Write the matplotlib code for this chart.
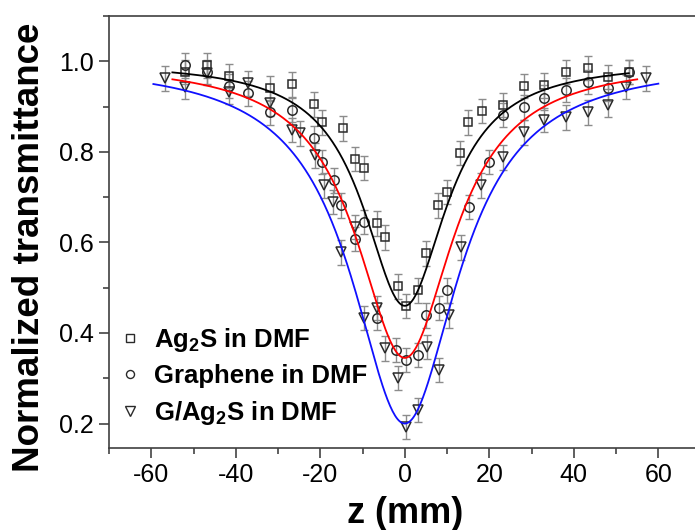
import numpy as np
import matplotlib
matplotlib.use("Agg")
import matplotlib.pyplot as plt
from matplotlib.lines import Line2D
from matplotlib.ticker import MultipleLocator

plt.rcParams['font.family'] = ['Liberation Sans', 'DejaVu Sans']
plt.rcParams['mathtext.fontset'] = 'custom'
plt.rcParams['mathtext.rm'] = 'Liberation Sans'
plt.rcParams['mathtext.bf'] = 'Liberation Sans:bold'

# ---- data ----
z_ag2s = [-52.1, -46.9, -41.7, -32.0, -26.8, -21.6, -19.7, -14.7, -11.8, -9.7, -6.6, -4.7,
          -1.7, 0.2, 3.1, 5.0, 7.8, 10.0, 13.0, 14.9, 18.2, 23.2, 28.2, 32.9, 38.1, 43.4, 48.1, 53.1]
t_ag2s = [0.976, 0.991, 0.967, 0.940, 0.949, 0.905, 0.865, 0.852, 0.784, 0.764, 0.642, 0.611,
          0.503, 0.459, 0.494, 0.576, 0.682, 0.711, 0.797, 0.865, 0.890, 0.903, 0.945, 0.947,
          0.976, 0.985, 0.965, 0.976]

z_gr = [-52.1, -46.9, -41.7, -37.0, -32.0, -26.8, -21.6, -19.7, -16.8, -15.1, -11.8, -9.7,
        -6.6, -2.1, 0.2, 3.1, 5.0, 8.0, 10.1, 15.1, 19.9, 23.2, 28.2, 32.9, 38.1, 43.4, 48.1, 53.1]
t_gr = [0.991, 0.976, 0.945, 0.929, 0.887, 0.892, 0.830, 0.777, 0.737, 0.682, 0.607, 0.645,
        0.433, 0.362, 0.340, 0.351, 0.439, 0.455, 0.494, 0.678, 0.777, 0.881, 0.898, 0.920,
        0.936, 0.954, 0.940, 0.976]

z_gag = [-56.7, -52.1, -46.9, -41.7, -37.0, -32.0, -26.8, -24.8, -21.3, -19.2, -17.0, -15.1,
         -11.8, -9.7, -6.6, -4.7, -1.7, 0.2, 3.1, 5.2, 8.0, 10.4, 13.3, 18.0, 23.2, 28.2,
         32.9, 38.1, 43.4, 48.1, 52.4, 57.1]
t_gag = [0.962, 0.943, 0.974, 0.932, 0.951, 0.907, 0.848, 0.841, 0.792, 0.726, 0.689, 0.578,
         0.634, 0.433, 0.455, 0.366, 0.300, 0.192, 0.230, 0.369, 0.318, 0.439, 0.589, 0.726,
         0.788, 0.843, 0.870, 0.876, 0.887, 0.903, 0.943, 0.962]

err_ag2s = 0.027
err_gr = 0.027
err_gag = 0.027

# fit-model parameters (Lorentzian dip): depth, z0, z-range
fit_ag2s = dict(depth=0.54, z0=12.0, zmin=-55, zmax=53)
fit_gr = dict(depth=0.655, z0=14.0, zmin=-55, zmax=55)
fit_gag = dict(depth=0.80, z0=15.4, zmin=-59.5, zmax=60)

labels = [r'Ag$_{\mathbf{2}}$S in DMF', 'Graphene in DMF', r'G/Ag$_{\mathbf{2}}$S in DMF']
xticks = [-60, -40, -20, 0, 20, 40, 60]
yticks = [0.2, 0.4, 0.6, 0.8, 1.0]

fig = plt.figure(figsize=(6.95, 5.30), dpi=100)
ax = fig.add_axes([109/695, 1-448/530, (700.6-109)/695, (448-16)/530])

ecol = '#8c8c8c'
mec = '#2a2a2a'
series = [
    (z_ag2s, t_ag2s, err_ag2s, 's', 6.0, fit_ag2s, 'black'),
    (z_gr, t_gr, err_gr, 'o', 6.8, fit_gr, 'red'),
    (z_gag, t_gag, err_gag, 'v', 7.8, fit_gag, '#1010ff'),
]
handles = []
for (zz, tt, ee, mk, ms, fit, lc), lab in zip(series, labels):
    ax.errorbar(zz, tt, yerr=ee, fmt='none', ecolor=ecol, elinewidth=1.0,
                capsize=3, capthick=1.0, zorder=2)
    ax.plot(zz, tt, mk, ms=ms, mfc='none', mec=mec, mew=1.1, zorder=3)
    zf = np.linspace(fit['zmin'], fit['zmax'], 400)
    tf = 1 - fit['depth'] / (1 + (zf / fit['z0'])**2)
    ax.plot(zf, tf, '-', color=lc, lw=1.3, zorder=4)
    handles.append(Line2D([], [], ls='none', marker=mk, ms=ms*0.85, mfc='none',
                          mec=mec, mew=1.0, label=lab))

ax.set_xlim(-70, 70)
ax.set_ylim(0.146, 1.1)
ax.set_xticks(xticks)
ax.set_yticks(yticks)
ax.xaxis.set_minor_locator(MultipleLocator(10))
ax.yaxis.set_minor_locator(MultipleLocator(0.1))
ax.set_xticklabels([str(v) for v in xticks])
ax.set_yticklabels([f'{v:.1f}' for v in yticks])
ax.tick_params(which='major', direction='out', length=7, width=1.1, labelsize=18,
               color='#333333', pad=4)
ax.tick_params(which='minor', direction='out', length=4, width=1.1, color='#333333')
ax.tick_params(top=False, right=False, which='both')
for s in ax.spines.values():
    s.set_linewidth(1.2)
    s.set_color('#404040')

ax.set_xlabel('z (mm)', fontsize=26, fontweight='bold', labelpad=6)
ax.set_ylabel('Normalized transmittance', fontsize=26.5, fontweight='bold')
ax.yaxis.set_label_coords(-0.105, 0.465)

leg = ax.legend(handles=handles, loc='upper left', bbox_to_anchor=(0.0, 0.30),
                frameon=False, prop={'size': 18.5, 'weight': 'bold'},
                handlelength=1.0, handletextpad=0.45, labelspacing=0.4,
                borderaxespad=0.0, borderpad=0.3)

fig.savefig('out.png', dpi=100)
